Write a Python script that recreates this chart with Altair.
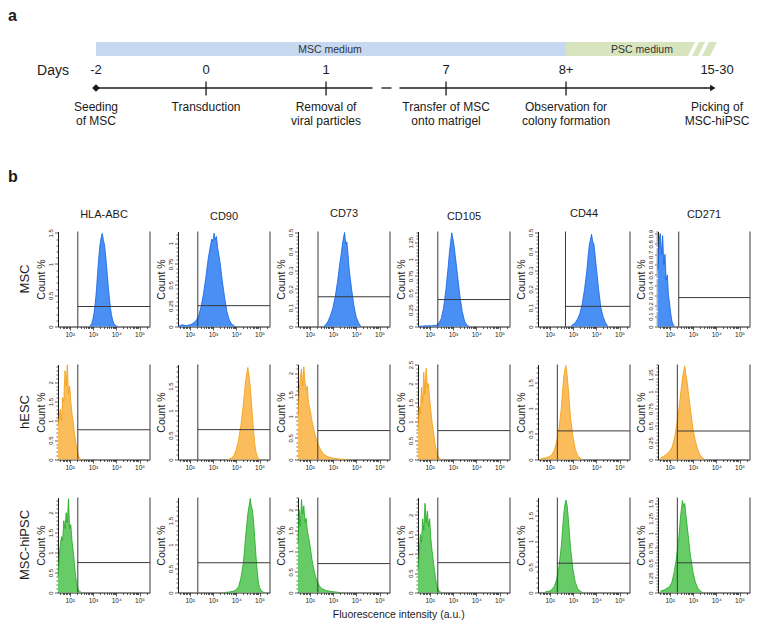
import math
import altair as alt
import pandas as pd

FONT = "Liberation Sans"
INK = "#1a1a1a"
GATE = "#3a3a3a"

# ---------------- panel a : protocol timeline ----------------
day_labels = ["-2", "0", "1", "7", "8+", "15-30"]
day_slot = [0.0, 0.917, 1.917, 2.917, 3.917, 5.175]          # slot along the drawn (non-proportional) time axis
event_labels = ["Seeding\nof MSC", "Transduction", "Removal of\nviral particles",
                "Transfer of MSC\nonto matrigel", "Observation for\ncolony formation",
                "Picking of\nMSC-hiPSC"]
medium_labels = ["MSC medium", "PSC medium"]
medium_label_slot = [1.95, 4.55]
msc_medium_span = [0.0, 3.917]
psc_part = ["main", "stripe1", "stripe2"]
psc_top_from = [3.917, 5.025, 5.108]
psc_top_to = [4.992, 5.075, 5.175]
psc_bot_from = [3.917, 4.967, 5.05]
psc_bot_to = [4.933, 5.017, 5.117]
axis_seg_from = [0.0, 2.379, 2.529]
axis_seg_to = [2.304, 2.4625, 5.125]
arrow_tip_slot = 5.14

# ---------------- panel b : flow cytometry histograms ----------------
markers = ["HLA-ABC", "CD90", "CD73", "CD105", "CD44", "CD271"]
cell_types = ["MSC", "hESC", "MSC-hiPSC"]

# x values are log10(fluorescence), y values are Count %
msc_hla_x = [2.85, 2.9, 2.95, 3.0, 3.05, 3.1, 3.15, 3.2, 3.25, 3.3, 3.35, 3.4, 3.45, 3.5, 3.55, 3.6, 3.65, 3.7, 3.75, 3.8, 3.85, 3.9, 3.95, 4.0, 4.05]
msc_hla_y = [0, 0.02, 0.05, 0.12, 0.22, 0.38, 0.58, 0.85, 1.1, 1.3, 1.42, 1.49, 1.38, 1.3, 1.12, 0.9, 0.68, 0.48, 0.3, 0.18, 0.1, 0.05, 0.02, 0.01, 0]
msc_cd90_x = [1.5, 1.55, 1.7, 1.85, 2.0, 2.1, 2.2, 2.3, 2.4, 2.5, 2.6, 2.7, 2.8, 2.9, 2.95, 3.0, 3.05, 3.1, 3.15, 3.2, 3.3, 3.4, 3.5, 3.6, 3.7, 3.8, 3.9, 3.95]
msc_cd90_y = [0, 0.01, 0.02, 0.01, 0.02, 0.03, 0.05, 0.08, 0.14, 0.25, 0.4, 0.6, 0.82, 0.98, 1.05, 1.02, 1.12, 1.04, 1.08, 0.95, 0.78, 0.55, 0.35, 0.18, 0.08, 0.03, 0.01, 0]
msc_cd73_x = [2.6, 2.7, 2.8, 2.9, 3.0, 3.1, 3.2, 3.3, 3.35, 3.4, 3.45, 3.5, 3.55, 3.6, 3.65, 3.7, 3.8, 3.9, 4.0, 4.1, 4.2]
msc_cd73_y = [0, 0.01, 0.03, 0.06, 0.1, 0.16, 0.24, 0.34, 0.38, 0.43, 0.47, 0.5, 0.44, 0.45, 0.38, 0.3, 0.2, 0.11, 0.05, 0.02, 0]
msc_cd105_x = [1.5, 1.8, 2.1, 2.3, 2.4, 2.5, 2.6, 2.7, 2.8, 2.85, 2.9, 2.95, 3.0, 3.05, 3.1, 3.2, 3.3, 3.4, 3.5, 3.6, 3.7]
msc_cd105_y = [0, 0.01, 0.01, 0.02, 0.05, 0.12, 0.28, 0.55, 0.9, 1.1, 1.25, 1.39, 1.3, 1.2, 1.05, 0.75, 0.45, 0.22, 0.08, 0.02, 0]
msc_cd44_x = [2.9, 3.0, 3.1, 3.2, 3.3, 3.4, 3.5, 3.6, 3.65, 3.7, 3.75, 3.8, 3.85, 3.9, 3.95, 4.0, 4.1, 4.2, 4.3, 4.4, 4.5]
msc_cd44_y = [0, 0.01, 0.02, 0.04, 0.07, 0.12, 0.2, 0.3, 0.37, 0.43, 0.46, 0.49, 0.45, 0.44, 0.38, 0.32, 0.2, 0.1, 0.05, 0.02, 0]
msc_cd271_x = [1.5, 1.55, 1.6, 1.65, 1.7, 1.75, 1.8, 1.85, 1.9, 1.95, 2.0, 2.05, 2.1, 2.15, 2.2]
msc_cd271_y = [0.55, 0.85, 0.9, 0.7, 0.88, 0.6, 0.7, 0.45, 0.5, 0.3, 0.22, 0.12, 0.05, 0.02, 0]

hesc_hla_x = [1.5, 1.55, 1.6, 1.65, 1.7, 1.75, 1.8, 1.85, 1.9, 1.95, 2.0, 2.05, 2.1, 2.15, 2.2, 2.25, 2.3, 2.35, 2.4, 2.45, 2.5]
hesc_hla_y = [0.9, 1.1, 1.3, 1.0, 1.6, 1.5, 2.3, 1.9, 2.45, 1.7, 1.9, 1.5, 1.2, 1.0, 0.7, 0.5, 0.3, 0.15, 0.06, 0.02, 0]
hesc_cd90_x = [3.6, 3.7, 3.8, 3.9, 4.0, 4.1, 4.2, 4.3, 4.35, 4.4, 4.45, 4.5, 4.55, 4.6, 4.65, 4.7, 4.75, 4.8, 4.85, 4.9, 5.0]
hesc_cd90_y = [0, 0.01, 0.03, 0.08, 0.2, 0.4, 0.7, 1.1, 1.35, 1.6, 1.75, 1.88, 1.7, 1.5, 1.2, 0.85, 0.55, 0.3, 0.15, 0.06, 0]
hesc_cd73_x = [1.5, 1.55, 1.6, 1.65, 1.7, 1.75, 1.8, 1.85, 1.9, 1.95, 2.0, 2.1, 2.2, 2.3, 2.4, 2.5, 2.6, 2.8, 3.0, 3.3, 3.6]
hesc_cd73_y = [1.0, 1.6, 1.9, 2.1, 1.7, 2.15, 1.8, 1.6, 1.7, 1.3, 1.2, 0.9, 0.65, 0.45, 0.3, 0.2, 0.12, 0.06, 0.03, 0.01, 0]
hesc_cd105_x = [1.5, 1.55, 1.6, 1.65, 1.7, 1.75, 1.8, 1.85, 1.9, 1.95, 2.0, 2.05, 2.1, 2.15, 2.2, 2.25, 2.3, 2.35, 2.4, 2.45, 2.5]
hesc_cd105_y = [0.8, 1.4, 1.2, 1.9, 1.5, 2.3, 1.7, 2.4, 1.9, 2.0, 1.6, 1.3, 1.0, 0.8, 0.55, 0.35, 0.2, 0.1, 0.04, 0.02, 0]
hesc_cd44_x = [1.6, 1.8, 2.0, 2.1, 2.2, 2.3, 2.4, 2.5, 2.55, 2.6, 2.65, 2.7, 2.75, 2.8, 2.85, 2.9, 3.0, 3.1, 3.2, 3.3, 3.4]
hesc_cd44_y = [0.01, 0.03, 0.06, 0.1, 0.18, 0.35, 0.6, 1.0, 1.3, 1.6, 1.75, 1.84, 1.65, 1.4, 1.1, 0.8, 0.45, 0.2, 0.08, 0.03, 0]
hesc_cd271_x = [1.6, 1.8, 2.0, 2.1, 2.2, 2.3, 2.4, 2.5, 2.55, 2.6, 2.65, 2.7, 2.75, 2.8, 2.9, 3.0, 3.1, 3.2, 3.3, 3.4, 3.5]
hesc_cd271_y = [0.02, 0.06, 0.12, 0.18, 0.3, 0.5, 0.75, 1.05, 1.2, 1.3, 1.38, 1.25, 1.15, 1.0, 0.72, 0.45, 0.28, 0.15, 0.07, 0.03, 0]

ips_hla_x = [1.5, 1.55, 1.6, 1.65, 1.7, 1.75, 1.8, 1.85, 1.9, 1.95, 2.0, 2.05, 2.1, 2.15, 2.2, 2.25, 2.3, 2.35, 2.4, 2.45, 2.5]
ips_hla_y = [0.4, 0.9, 1.2, 1.4, 1.3, 1.8, 1.6, 2.0, 1.75, 2.35, 1.6, 1.7, 1.3, 1.05, 0.75, 0.45, 0.22, 0.1, 0.05, 0.02, 0]
ips_cd90_x = [3.5, 3.7, 3.9, 4.0, 4.1, 4.2, 4.3, 4.35, 4.4, 4.45, 4.5, 4.55, 4.6, 4.65, 4.7, 4.75, 4.8, 4.85, 4.9, 4.95, 5.0, 5.1, 5.2]
ips_cd90_y = [0, 0.01, 0.03, 0.06, 0.12, 0.3, 0.6, 0.85, 1.15, 1.4, 1.65, 1.8, 1.96, 1.8, 1.7, 1.45, 1.1, 0.75, 0.45, 0.22, 0.1, 0.02, 0]
ips_cd73_x = [1.5, 1.55, 1.6, 1.65, 1.7, 1.75, 1.8, 1.85, 1.9, 1.95, 2.0, 2.05, 2.1, 2.2, 2.3, 2.4, 2.5, 2.7, 3.0, 3.3]
ips_cd73_y = [1.2, 2.0, 1.6, 2.25, 1.9, 2.1, 1.7, 1.8, 1.5, 1.35, 1.2, 1.0, 0.8, 0.5, 0.3, 0.18, 0.1, 0.05, 0.02, 0]
ips_cd105_x = [1.5, 1.55, 1.6, 1.65, 1.7, 1.75, 1.8, 1.85, 1.9, 1.95, 2.0, 2.05, 2.1, 2.15, 2.2, 2.25, 2.3, 2.35, 2.4, 2.45, 2.5]
ips_cd105_y = [0.6, 1.0, 1.5, 1.3, 1.9, 1.6, 2.3, 1.8, 2.1, 1.7, 1.9, 1.4, 1.1, 0.85, 0.6, 0.38, 0.2, 0.1, 0.04, 0.02, 0]
ips_cd44_x = [1.8, 2.0, 2.1, 2.2, 2.3, 2.4, 2.5, 2.55, 2.6, 2.65, 2.7, 2.75, 2.8, 2.85, 2.9, 3.0, 3.1, 3.2, 3.3, 3.4]
ips_cd44_y = [0.01, 0.03, 0.06, 0.12, 0.25, 0.5, 0.9, 1.2, 1.5, 1.7, 1.8, 1.7, 1.45, 1.15, 0.85, 0.45, 0.2, 0.08, 0.03, 0]
ips_cd271_x = [1.6, 1.8, 2.0, 2.1, 2.2, 2.3, 2.4, 2.45, 2.5, 2.55, 2.6, 2.65, 2.7, 2.8, 2.9, 3.0, 3.1, 3.2, 3.3, 3.4]
ips_cd271_y = [0.02, 0.05, 0.1, 0.18, 0.35, 0.6, 0.95, 1.2, 1.4, 1.55, 1.45, 1.5, 1.3, 0.95, 0.6, 0.35, 0.18, 0.08, 0.03, 0]

# axis maximum, labelled tick step, gate position (log10 x) and gate level (Count %)
msc_ymax = [1.52, 1.14, 0.505, 1.41, 0.505, 0.92]
msc_ystep = [0.5, 0.25, 0.1, 0.25, 0.1, 0.1]
msc_gate_x = [2.35, 2.35, 2.36, 2.35, 2.68, 2.39]
msc_gate_y = [0.32, 0.25, 0.158, 0.40, 0.107, 0.28]
hesc_ymax = [2.46, 1.94, 2.2, 2.5, 1.86, 1.4]
hesc_ystep = [0.5, 0.5, 0.5, 0.5, 0.5, 0.25]
hesc_gate_x = [2.35, 2.35, 2.35, 2.35, 2.33, 2.33]
hesc_gate_y = [0.77, 0.61, 0.67, 0.76, 0.56, 0.42]
ips_ymax = [2.38, 1.98, 2.3, 2.45, 1.85, 1.6]
ips_ystep = [0.5, 0.5, 0.5, 0.5, 0.5, 0.25]
ips_gate_x = [2.35, 2.35, 2.35, 2.35, 2.33, 2.33]
ips_gate_y = [0.75, 0.62, 0.70, 0.77, 0.57, 0.50]

HX = [[msc_hla_x, msc_cd90_x, msc_cd73_x, msc_cd105_x, msc_cd44_x, msc_cd271_x],
      [hesc_hla_x, hesc_cd90_x, hesc_cd73_x, hesc_cd105_x, hesc_cd44_x, hesc_cd271_x],
      [ips_hla_x, ips_cd90_x, ips_cd73_x, ips_cd105_x, ips_cd44_x, ips_cd271_x]]
HY = [[msc_hla_y, msc_cd90_y, msc_cd73_y, msc_cd105_y, msc_cd44_y, msc_cd271_y],
      [hesc_hla_y, hesc_cd90_y, hesc_cd73_y, hesc_cd105_y, hesc_cd44_y, hesc_cd271_y],
      [ips_hla_y, ips_cd90_y, ips_cd73_y, ips_cd105_y, ips_cd44_y, ips_cd271_y]]
YMAX = [msc_ymax, hesc_ymax, ips_ymax]
YSTEP = [msc_ystep, hesc_ystep, ips_ystep]
GX = [msc_gate_x, hesc_gate_x, ips_gate_x]
GY = [msc_gate_y, hesc_gate_y, ips_gate_y]

row_fill = ["#4a8ff4", "#fbbd5c", "#67cc67"]
row_line = ["#1262e6", "#f29a0f", "#1ea81e"]

XMIN, XMAX = 1.5, 5.45
PANEL_W, PANEL_H = 92, 95
COL_GAP, ROW_GAP = 28, 38
TL_W, TL_H = 692, 170

# ---------------- build panel a ----------------
tx = alt.Scale(domain=[-0.3167, 5.45], nice=False, zero=False)
ty = alt.Scale(domain=[TL_H, 0], nice=False, zero=False)


def TX(f):
    return alt.X(f"{f}:Q", scale=tx, axis=None)


def TY(f):
    return alt.Y(f"{f}:Q", scale=ty, axis=None)


BAR_TOP, BAR_BOT, BAR_TXT = 34, 48, 45
DAY_Y, LINE_Y, TICK_TOP, TICK_BOT, EVENT_Y = 66, 80, 73.5, 87.5, 102.5

blue_bar = alt.Chart(pd.DataFrame({"x": [msc_medium_span[0]], "x2": [msc_medium_span[1]],
                                   "y": [BAR_TOP], "y2": [BAR_BOT]})).mark_rect(
    color="#c6d9f1").encode(x=TX("x"), x2="x2:Q", y=TY("y"), y2="y2:Q")

green_rows = []
for p, a, b, c, d in zip(psc_part, psc_top_from, psc_top_to, psc_bot_from, psc_bot_to):
    green_rows.append({"part": p, "y": BAR_TOP, "x": a, "x2": b})
    green_rows.append({"part": p, "y": BAR_BOT, "x": c, "x2": d})
green_bar = alt.Chart(pd.DataFrame(green_rows)).mark_area(
    orient="horizontal", color="#d7e4bd").encode(y=TY("y"), x=TX("x"), x2="x2:Q", detail="part:N")

medium_text = alt.Chart(pd.DataFrame({"t": medium_labels, "x": medium_label_slot,
                                      "y": [BAR_TXT, BAR_TXT]})).mark_text(
    fontSize=10.5, color="#333333", baseline="alphabetic").encode(x=TX("x"), y=TY("y"), text="t:N")

days_word = alt.Chart(pd.DataFrame({"t": ["Days"], "y": [DAY_Y + 0.5]})).mark_text(
    fontSize=14, color=INK, baseline="alphabetic").encode(x=alt.value(-5), y=TY("y"), text="t:N")

day_text = alt.Chart(pd.DataFrame({"t": day_labels, "x": day_slot, "y": [DAY_Y] * 6})).mark_text(
    fontSize=13, color=INK, baseline="alphabetic").encode(x=TX("x"), y=TY("y"), text="t:N")

axis_line = alt.Chart(pd.DataFrame({"x": axis_seg_from, "x2": axis_seg_to, "y": [LINE_Y] * 3})).mark_rule(
    color=INK, strokeWidth=1.3).encode(x=TX("x"), x2="x2:Q", y=TY("y"))

day_ticks = alt.Chart(pd.DataFrame({"x": day_slot[1:5], "y": [TICK_TOP] * 4, "y2": [TICK_BOT] * 4})).mark_rule(
    color=INK, strokeWidth=1.3).encode(x=TX("x"), y=TY("y"), y2="y2:Q")

start_diamond = alt.Chart(pd.DataFrame({"x": [day_slot[0]], "y": [LINE_Y]})).mark_point(
    shape="diamond", filled=True, size=60, color=INK, opacity=1).encode(x=TX("x"), y=TY("y"))

end_arrow = alt.Chart(pd.DataFrame({"x": [arrow_tip_slot], "y": [LINE_Y]})).mark_point(
    shape="triangle-right", filled=True, size=40, color=INK, opacity=1).encode(x=TX("x"), y=TY("y"))

event_text = alt.Chart(pd.DataFrame({"t": event_labels, "x": day_slot, "y": [EVENT_Y] * 6})).mark_text(
    fontSize=12, color=INK, lineBreak="\n", lineHeight=14.5, baseline="alphabetic").encode(
    x=TX("x"), y=TY("y"), text="t:N")

letter_a = alt.Chart(pd.DataFrame({"t": ["a"], "y": [0]})).mark_text(
    fontSize=16, fontWeight="bold", color=INK, align="left", baseline="top").encode(
    x=alt.value(-50), y=TY("y"), text="t:N")
letter_b = alt.Chart(pd.DataFrame({"t": ["b"], "y": [174]})).mark_text(
    fontSize=16, fontWeight="bold", color=INK, align="left", baseline="alphabetic").encode(
    x=alt.value(-50), y=TY("y"), text="t:N")

timeline = alt.layer(blue_bar, green_bar, medium_text, days_word, day_text, axis_line, day_ticks,
                     start_diamond, end_arrow, event_text, letter_a, letter_b).properties(width=TL_W, height=TL_H)

# ---------------- build panel b ----------------
xticks = sorted({round(math.log10(k * 10 ** n), 4) for n in range(1, 6) for k in range(1, 10)
                 if XMIN <= math.log10(k * 10 ** n) <= XMAX})
x_major = "abs(datum.value - round(datum.value)) < 0.001"
x_axis = alt.Axis(
    values=xticks,
    labelExpr=f"{x_major} ? '10' + ['\u2070','\u00b9','\u00b2','\u00b3','\u2074','\u2075','\u2076'][round(datum.value)] : ''",
    tickSize={"condition": {"test": x_major, "value": 3.5}, "value": 2},
    labelFontSize=6.5, labelPadding=1, labelOverlap=False, labelFlush=False, labelAngle=0,
    title=None, grid=False, domainColor=INK, tickColor=INK, labelColor=INK, domainWidth=1, tickWidth=0.7)


def y_axis(step, ymax):
    minor = step / 5
    n = int(ymax / minor + 1e-6)
    vals = [round(i * minor, 4) for i in range(n + 1)]
    test = f"abs(datum.value / {step} - round(datum.value / {step})) < 0.001"
    return alt.Axis(values=vals, labelExpr=f"{test} ? '' + datum.value : ''",
                    tickSize={"condition": {"test": test, "value": 3.5}, "value": 2},
                    labelAngle=270, labelAlign="center", labelBaseline="bottom",
                    labelFontSize=6, labelPadding=1, labelOverlap=False,
                    title="Count %", titleFontSize=10.5, titleFontWeight="normal", titlePadding=1,
                    grid=False, domainColor=INK, tickColor=INK, labelColor=INK, titleColor=INK,
                    domainWidth=1, tickWidth=0.7)


def panel(ri, ci):
    xs = alt.Scale(domain=[XMIN, XMAX], nice=False, zero=False)
    ys = alt.Scale(domain=[0, YMAX[ri][ci]], nice=False, zero=True)
    ya = y_axis(YSTEP[ri][ci], YMAX[ri][ci])

    def ex(f="x"):
        return alt.X(f"{f}:Q", scale=xs, axis=x_axis)

    def ey(f="y"):
        return alt.Y(f"{f}:Q", scale=ys, axis=ya)

    hist = alt.Chart(pd.DataFrame({"x": HX[ri][ci], "y": HY[ri][ci]})).mark_area(
        color=row_fill[ri], opacity=1, line={"color": row_line[ri], "strokeWidth": 0.8}).encode(x=ex(), y=ey())
    gate_v = alt.Chart(pd.DataFrame({"x": [GX[ri][ci]]})).mark_rule(
        color=GATE, strokeWidth=1).encode(x=ex())
    gate_h = alt.Chart(pd.DataFrame({"x": [GX[ri][ci]], "x2": [XMAX], "y": [GY[ri][ci]]})).mark_rule(
        color=GATE, strokeWidth=1).encode(x=ex(), x2="x2:Q", y=ey())
    border = alt.Chart(pd.DataFrame({"x": [XMAX]})).mark_rule(
        color=GATE, strokeWidth=1).encode(x=ex())
    layers = [hist, gate_v, gate_h, border]
    if ci == 0:
        lab = alt.Chart(pd.DataFrame({"t": [cell_types[ri]]})).mark_text(
            angle=270, fontSize=13, color=INK).encode(text="t:N", x=alt.value(-33), y=alt.value(PANEL_H / 2))
        layers.append(lab)
    ch = alt.layer(*layers).properties(width=PANEL_W, height=PANEL_H)
    if ri == 0:
        ch = ch.properties(title=alt.TitleParams(markers[ci], fontSize=11, fontWeight="normal",
                                                 anchor="middle", frame="group", offset=9, color=INK))
    return ch


panels = [panel(r, c) for r in range(3) for c in range(6)]
grid = alt.concat(*panels, columns=6, spacing={"row": ROW_GAP, "column": COL_GAP}, bounds="flush",
                  title=alt.TitleParams("Fluorescence intensity (a.u.)", orient="bottom", anchor="middle",
                                        fontSize=10.5, fontWeight="normal", offset=6, dx=14, color=INK))

chart = alt.vconcat(timeline, grid, spacing=53.5, bounds="flush").properties(padding=0).configure(
    font=FONT).configure_view(stroke=None)

chart.save("out.html", embed_options={"renderer": "svg", "actions": False})
